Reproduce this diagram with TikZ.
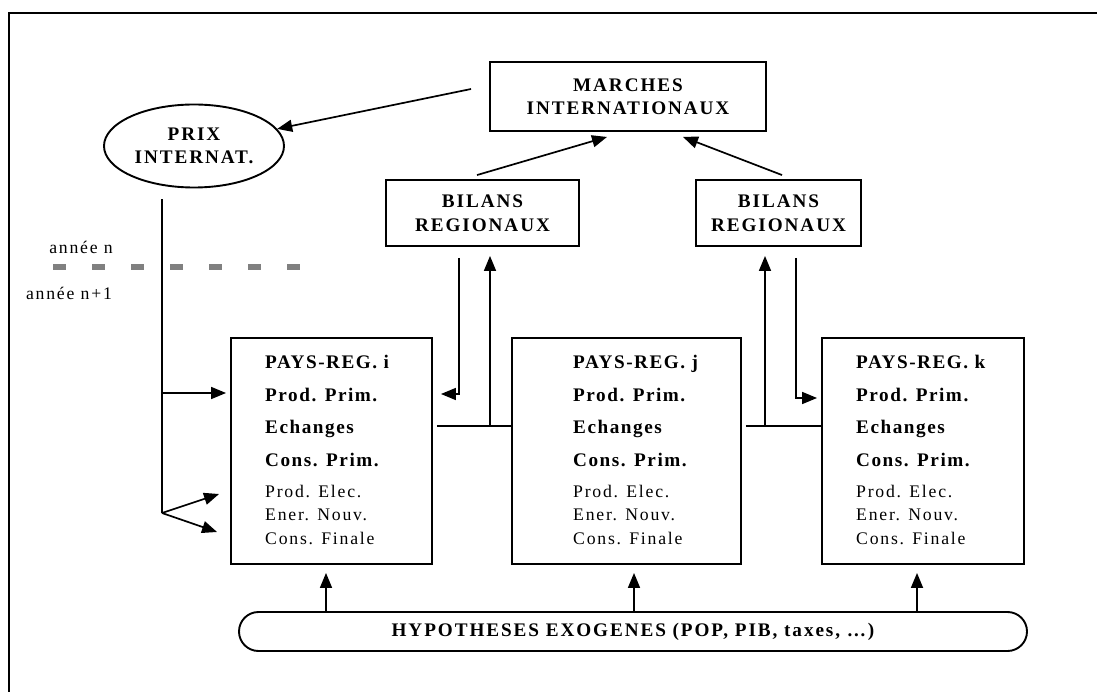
\documentclass[tikz,border=0pt]{standalone}
\usepackage{fontspec}
\setmainfont{Liberation Serif}
\newfontfamily\titrefont[LetterSpace=10]{Liberation Serif}
\newfontfamily\boitefont[LetterSpace=8]{Liberation Serif}
\newfontfamily\textefont[LetterSpace=10]{Liberation Serif}
\usetikzlibrary{arrows.meta,shapes.geometric}
\tikzset{
  cadre/.style={draw, line width=1.9pt, inner sep=0pt},
  titre/.style={align=center, font={\titrefont\bfseries\fontsize{19.2}{23.5}\selectfont}},
  gras/.style={align=left, inner sep=0pt, font={\boitefont\bfseries\fontsize{19.2}{32.5}\selectfont}},
  maigre/.style={align=left, inner sep=0pt, font={\textefont\fontsize{17.7}{23.5}\selectfont}},
  fleche/.style={line width=1.7pt, -{Triangle[length=15pt,width=12pt]}},
  trait/.style={line width=1.7pt},
}
\begin{document}
\begin{tikzpicture}[x=1pt, y=-1pt]
        \useasboundingbox (0,0) rectangle (1097,692);
        % Cadre
        \draw[line width=1.9pt] (9,692) -- (9,13) -- (1097,13);

        % Marches, prix et bilans
        \node[cadre, titre, minimum width=276, minimum height=69] (marches) at (628,96.5) {MARCHES\\INTERNATIONAUX};
        \node[ellipse, draw, line width=1.9pt, inner sep=0pt, titre, minimum width=180, minimum height=83] (prix) at (194,146) {PRIX\\INTERNAT.};
        \node[cadre, titre, minimum width=193, minimum height=66] (bilans1) at (482.5,213) {BILANS\\REGIONAUX};
        \node[cadre, titre, minimum width=165, minimum height=66] (bilans2) at (778.5,213) {BILANS\\REGIONAUX};

        % Separation des annees
        \node[maigre] (an) at (81,247) {année n};
        \node[maigre] (an1) at (69,293) {année n+1};
        \draw[gray, line width=6pt, dash pattern=on 13pt off 26pt] (53,267) -- (300,267);

        % Pays-regions
        \node[cadre, minimum width=201, minimum height=226] (pi) at (331.5,451) {};
        \node[cadre, minimum width=229, minimum height=226] (pj) at (626.5,451) {};
        \node[cadre, minimum width=202, minimum height=226] (pk) at (923,451) {};

        \node[gras, anchor=north west] (pig) at (265,355) {PAYS-REG. i\\Prod. Prim.\\Echanges\\Cons. Prim.};
        \node[maigre, anchor=north west] (pim) at (265,485) {Prod. Elec.\\Ener. Nouv.\\Cons. Finale};
        \node[gras, anchor=north west] (pjg) at (573,355) {PAYS-REG. j\\Prod. Prim.\\Echanges\\Cons. Prim.};
        \node[maigre, anchor=north west] (pjm) at (573,485) {Prod. Elec.\\Ener. Nouv.\\Cons. Finale};
        \node[gras, anchor=north west] (pkg) at (856,355) {PAYS-REG. k\\Prod. Prim.\\Echanges\\Cons. Prim.};
        \node[maigre, anchor=north west] (pkm) at (856,485) {Prod. Elec.\\Ener. Nouv.\\Cons. Finale};

        % Hypotheses exogenes
        \node[draw, line width=1.9pt, rounded corners=19.5, minimum width=788, minimum height=39, titre] (hypo) at (633,631.5) {HYPOTHESES EXOGENES (POP, PIB, taxes, …)};

        % Fleches du haut
        \draw[fleche] ([shift={(-18,-7.5)}]marches.west) -- (prix);
        \draw[fleche] ([shift={(-5.5,-4)}]bilans1.north) -- ([shift={(-21,5)}]marches.south);
        \draw[fleche] ([shift={(3.5,-4)}]bilans2.north) -- ([shift={(55,5)}]marches.south);

        % Prix vers pays i
        \coordinate (branche) at (162,393);
        \coordinate (fourche) at (162,513);
        \draw[trait] ([shift={(-32,11)}]prix.south) -- (fourche);
        \draw[fleche, shorten >=4pt] (branche) -- (branche -| pi.west);
        \draw[fleche] (fourche) -- ([shift={(-11,43)}]pi.west);
        \draw[fleche] (fourche) -- ([shift={(-13,81)}]pi.west);

        % Echanges avec les bilans
        \coordinate (lien1) at (490,426);
        \coordinate (lien2) at (765,426);
        \draw[trait] ([shift={(4,-25)}]pi.east) -- ([shift={(0,-25)}]pj.west);
        \draw[trait] ([shift={(4,-25)}]pj.east) -- ([shift={(0,-25)}]pk.west);
        \draw[fleche] ([shift={(-23.5,11)}]bilans1.south) |- ([shift={(8,-57)}]pi.east);
        \draw[fleche] (lien1) -- ([shift={(7.5,9)}]bilans1.south);
        \draw[fleche] (lien2) -- ([shift={(-13.5,9)}]bilans2.south);
        \draw[fleche] ([shift={(17.5,11)}]bilans2.south) |- ([shift={(-4,-53)}]pk.west);

        % Hypotheses vers pays
        \draw[fleche] ([xshift=-5.5]pi.south |- hypo.north) -- ([shift={(-5.5,8)}]pi.south);
        \draw[fleche] ([xshift=7.5]pj.south |- hypo.north) -- ([shift={(7.5,8)}]pj.south);
        \draw[fleche] ([xshift=-6]pk.south |- hypo.north) -- ([shift={(-6,8)}]pk.south);
\end{tikzpicture}
\end{document}
